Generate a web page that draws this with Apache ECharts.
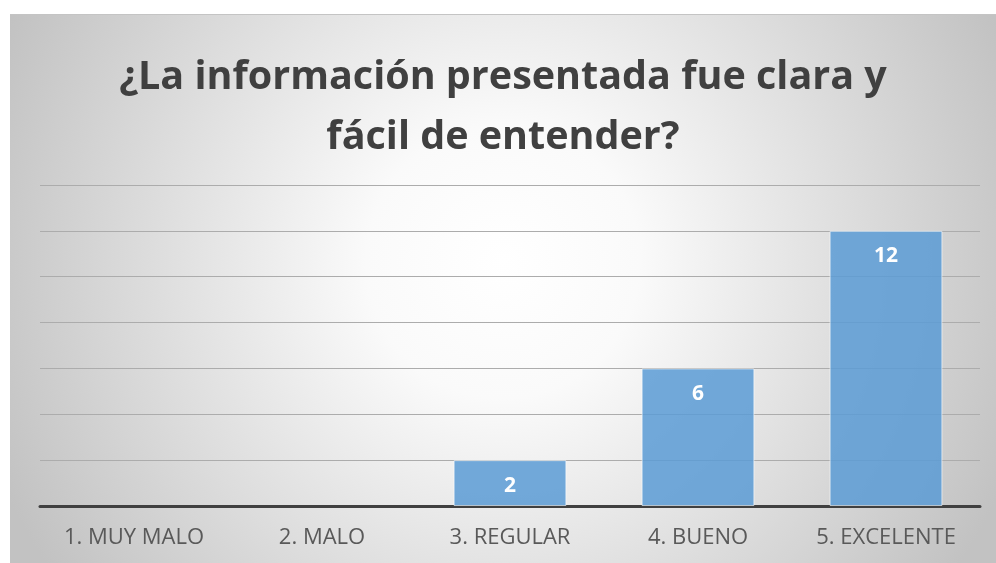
<!DOCTYPE html>
<html>
<head>
<meta charset="utf-8">
<script src="https://cdn.jsdelivr.net/npm/echarts@6/dist/echarts.min.js"></script>
<style>
  html, body { margin: 0; padding: 0; background: #fff; }
  #chart { position: absolute; left: 10px; top: 14px; width: 986px; height: 549px; border-top: 1px solid #c4c4c4; box-sizing: border-box; }
</style>
</head>
<body>
<div id="chart"></div>
<script>
    var titulo = '¿La información presentada fue clara y\nfácil de entender?';
    var categorias = ['1. MUY MALO', '2. MALO', '3. REGULAR', '4. BUENO', '5. EXCELENTE'];
    var respuestas = [0, 0, 2, 6, 12];

    var chart = echarts.init(document.getElementById('chart'));

    // las barras en cero no llevan borde
    var datosBarras = respuestas.map(function (v) {
        return v === 0 ? {value: v, itemStyle: {borderWidth: 0}} : v;
    });

    var option = {
        backgroundColor: {
            type: 'radial',
            x: 0.5, y: 0.45, r: 1.0,
            colorStops: [
                {offset: 0, color: '#ffffff'},
                {offset: 0.25, color: '#fafafa'},
                {offset: 1, color: '#c2c2c2'}
            ]
        },
        title: {
            text: titulo,
            left: 'center',
            top: 28,
            textStyle: {
                fontFamily: 'Open Sans',
                fontSize: 39.5,
                fontWeight: 'bold',
                color: '#404040',
                lineHeight: 60
            }
        },
        grid: {
            left: 30,
            right: 16,
            top: 170,
            bottom: 57
        },
        xAxis: {
            type: 'category',
            data: categorias,
            axisLine: { lineStyle: { color: '#404040', width: 3 } },
            axisTick: { show: false },
            axisLabel: {
                margin: 21,
                fontFamily: 'Open Sans',
                fontSize: 22,
                color: '#595959'
            }
        },
        yAxis: {
            type: 'value',
            min: 0,
            max: 14,
            interval: 2,
            axisLabel: { show: false },
            axisLine: { show: false },
            axisTick: { show: false },
            splitLine: { lineStyle: { color: '#acacac', width: 1 } }
        },
        series: [
            {
                name: 'Respuestas',
                type: 'bar',
                data: datosBarras,
                barCategoryGap: '40%',
                itemStyle: {
                    color: 'rgba(91,155,213,0.85)',
                    borderColor: 'rgba(255,255,255,0.6)',
                    borderWidth: 1
                },
                label: {
                    show: true,
                    position: 'insideTop',
                    distance: 15,
                    fontFamily: 'Open Sans',
                    fontSize: 21,
                    fontWeight: 'bold',
                    color: '#ffffff',
                    formatter: function (p) { return p.value > 0 ? p.value : ''; }
                }
            }
        ]
    };

    chart.setOption(option);
</script>
</body>
</html>
